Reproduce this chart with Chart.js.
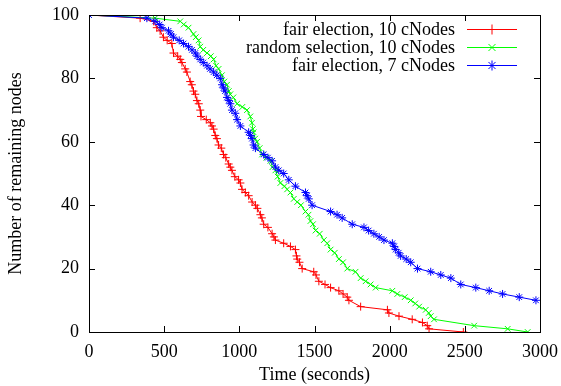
<!DOCTYPE html>
<html>
<head>
<meta charset="utf-8">
<script src="https://cdn.jsdelivr.net/npm/chart.js@4/dist/chart.umd.min.js"></script>
<style>
  body { margin: 0; background: #fff; }
  #wrap { position: relative; width: 561px; height: 386px; }
</style>
</head>
<body>
<div id="wrap"><canvas id="myChart"></canvas></div>
<script>
// series: time (s) and remaining nodes
const fair10Time = [0, 340, 430, 451, 473, 495, 520, 551, 562, 590, 607, 618, 640, 651, 673, 684, 695, 707, 718, 730, 740, 745, 780, 807, 818, 829, 840, 851, 862, 880, 895, 910, 929, 940, 951, 970, 995, 1007, 1018, 1040, 1062, 1085, 1107, 1120, 1140, 1150, 1162, 1190, 1218, 1230, 1240, 1295, 1340, 1373, 1380, 1385, 1400, 1418, 1495, 1510, 1529, 1570, 1607, 1662, 1690, 1718, 1729, 1807, 1985, 1995, 2062, 2150, 2218, 2250, 2262, 2490];
const fair10Count = [100, 99, 98, 96, 95, 93, 92, 91, 88, 87, 86, 85, 83, 82, 79, 78, 76, 75, 73, 72, 70, 68, 67, 66, 65, 64, 62, 61, 59, 58, 56, 55, 53, 52, 51, 49, 48, 47, 45, 44, 43, 41, 40, 39, 37, 36, 34, 33, 31, 30, 29, 28, 27, 26, 24, 23, 22, 20, 19, 18, 16, 15, 14, 13, 12, 11, 10, 8, 7, 6, 5, 4, 3, 2, 1, 0];

const random10Time = [0, 440, 607, 630, 662, 695, 710, 729, 740, 760, 785, 810, 829, 845, 862, 884, 900, 918, 930, 940, 960, 985, 1020, 1051, 1073, 1084, 1090, 1095, 1105, 1118, 1135, 1151, 1180, 1207, 1220, 1240, 1255, 1273, 1300, 1318, 1340, 1362, 1385, 1410, 1440, 1460, 1473, 1490, 1507, 1535, 1562, 1585, 1607, 1635, 1662, 1690, 1718, 1773, 1807, 1840, 1873, 1907, 2018, 2051, 2100, 2140, 2170, 2196, 2240, 2260, 2273, 2295, 2562, 2785, 2918];
const random10Count = [100, 99, 98, 97, 96, 94, 93, 92, 90, 89, 88, 87, 86, 84, 83, 81, 79, 78, 76, 75, 74, 72, 71, 70, 68, 66, 64, 63, 61, 60, 58, 56, 55, 54, 52, 51, 49, 47, 46, 45, 44, 42, 41, 40, 38, 37, 35, 34, 32, 31, 29, 28, 26, 25, 23, 22, 20, 19, 17, 16, 15, 14, 13, 12, 11, 10, 9, 8, 7, 6, 5, 4, 2, 1, 0];

const fair7Time = [0, 385, 440, 470, 485, 529, 545, 562, 600, 629, 662, 685, 707, 720, 740, 760, 785, 805, 829, 850, 873, 885, 895, 905, 918, 930, 940, 951, 973, 985, 1007, 1062, 1075, 1084, 1095, 1107, 1162, 1190, 1218, 1240, 1262, 1295, 1329, 1373, 1440, 1450, 1462, 1484, 1607, 1650, 1684, 1751, 1829, 1860, 1895, 1930, 1962, 2018, 2030, 2040, 2060, 2073, 2110, 2140, 2185, 2273, 2340, 2407, 2473, 2573, 2662, 2751, 2862, 2973];
const fair7Count = [100, 99, 98, 97, 96, 95, 94, 93, 92, 91, 90, 89, 88, 87, 86, 85, 84, 83, 82, 81, 80, 78, 77, 76, 74, 73, 72, 70, 69, 67, 65, 63, 62, 61, 59, 58, 56, 55, 54, 52, 51, 50, 48, 46, 44, 43, 42, 40, 38, 37, 36, 34, 33, 32, 31, 30, 29, 28, 27, 26, 25, 24, 23, 22, 20, 19, 18, 17, 15, 14, 13, 12, 11, 10];

const labels = ["fair election, 10 cNodes", "random selection, 10 cNodes", "fair election, 7 cNodes"];
const xTicks = [0, 500, 1000, 1500, 2000, 2500, 3000];
const yTicks = [0, 20, 40, 60, 80, 100];

const toPoints = (t, c) => t.map((v, i) => ({ x: v, y: c[i] }));

const FONT = "'Liberation Serif', 'DejaVu Serif', serif";

//gnuplot like marker for the key
const drawMark = (ctx, style, x, y, r) => {
  const d = r * Math.SQRT1_2;
  ctx.beginPath();
  if (style === "cross" || style === "star") {
    ctx.moveTo(x - r, y); ctx.lineTo(x + r, y);
    ctx.moveTo(x, y - r); ctx.lineTo(x, y + r);
  }
  if (style === "crossRot" || style === "star") {
    ctx.moveTo(x - d, y - d); ctx.lineTo(x + d, y + d);
    ctx.moveTo(x - d, y + d); ctx.lineTo(x + d, y - d);
  }
  ctx.stroke();
};

//Legend drawn gnuplot style: text right aligned, sample on the right
const keyPlugin = {
  id: "key",
  afterDatasetsDraw(chart) {
    const ctx = chart.ctx;
    const area = chart.chartArea;
    ctx.save();
    ctx.font = "18px " + FONT;
    ctx.textAlign = "right";
    ctx.textBaseline = "middle";
    chart.data.datasets.forEach((ds, i) => {
      const y = area.top + 14.5 + i * 18;
      const x1 = area.right - 73;
      const x2 = area.right - 23;
      ctx.fillStyle = "#000";
      ctx.fillText(ds.label, area.right - 85, y + 0.5);
      ctx.strokeStyle = ds.borderColor;
      ctx.lineWidth = 1;
      ctx.beginPath();
      ctx.moveTo(x1, y);
      ctx.lineTo(x2, y);
      ctx.stroke();
      drawMark(ctx, ds.pointStyle, (x1 + x2) / 2, y, ds.pointRadius + 1);
    });
    ctx.restore();
  },
};

//Frame with inward ticks on all sides
const framePlugin = {
  id: "frame",
  afterDraw(chart) {
    const ctx = chart.ctx;
    const a = chart.chartArea;
    const xs = chart.scales.x;
    const ys = chart.scales.y;
    const len = 6;
    ctx.save();
    ctx.strokeStyle = "#000";
    ctx.lineWidth = 1;
    ctx.beginPath();
    xTicks.forEach((v) => {
      const px = Math.round(xs.getPixelForValue(v)) + 0.5;
      ctx.moveTo(px, a.bottom);
      ctx.lineTo(px, a.bottom - len);
      ctx.moveTo(px, a.top);
      ctx.lineTo(px, a.top + len);
    });
    yTicks.forEach((v) => {
      const py = Math.round(ys.getPixelForValue(v)) + 0.5;
      ctx.moveTo(a.left, py);
      ctx.lineTo(a.left + len, py);
      ctx.moveTo(a.right, py);
      ctx.lineTo(a.right - len, py);
    });
    ctx.stroke();
    ctx.strokeRect(Math.round(a.left) + 0.5, Math.round(a.top) + 0.5, Math.round(a.right - a.left), Math.round(a.bottom - a.top));
    ctx.restore();
  },
};

const makeSet = (label, t, c, color, style, order) => ({
  label: label,
  data: toPoints(t, c),
  borderColor: color,
  backgroundColor: color,
  borderWidth: 1,
  pointStyle: style,
  pointRadius: 4,
  pointBorderWidth: 1,
  pointBorderColor: color,
  tension: 0,
  order: order,
});

const config = {
  type: "line",
  data: {
    datasets: [
      makeSet(labels[0], fair10Time, fair10Count, "#ff0000", "cross", 3),
      makeSet(labels[1], random10Time, random10Count, "#00ff00", "crossRot", 2),
      makeSet(labels[2], fair7Time, fair7Count, "#0000ff", "star", 1),
    ],
  },
  options: {
    responsive: true,
    maintainAspectRatio: false,
    animation: false,
    layout: {
      padding: { top: 15, right: 21, left: 5, bottom: 0 },
    },
    scales: {
      x: {
        type: "linear",
        min: 0,
        max: 3000,
        afterFit: (scale) => {
          scale.height = 54;
          scale.paddingLeft = 0;
          scale.paddingRight = 0;
        },
        grid: { display: false, drawTicks: false },
        border: { display: false },
        ticks: {
          stepSize: 500,
          padding: 9,
          color: "#000",
          font: { family: FONT, size: 18 },
          maxRotation: 0,
          callback: (v) => String(v),
        },
        title: {
          display: true,
          text: "Time (seconds)",
          color: "#000",
          font: { family: FONT, size: 18 },
          padding: { top: 3, bottom: 0 },
        },
      },
      y: {
        min: 0,
        max: 100,
        afterFit: (scale) => {
          scale.width = 84;
          scale.paddingTop = 0;
          scale.paddingBottom = 0;
        },
        grid: { display: false, drawTicks: false },
        border: { display: false },
        ticks: {
          stepSize: 20,
          padding: 10,
          color: "#000",
          font: { family: FONT, size: 18 },
          callback: (v) => String(v),
        },
        title: {
          display: true,
          text: "Number of remaining nodes",
          color: "#000",
          font: { family: FONT, size: 18 },
          padding: { top: 0, bottom: 0 },
        },
      },
    },
    plugins: {
      legend: { display: false },
      tooltip: { enabled: false },
    },
  },
  plugins: [keyPlugin, framePlugin],
};

var myChart = new Chart(document.getElementById("myChart"), config);
</script>
</body>
</html>
